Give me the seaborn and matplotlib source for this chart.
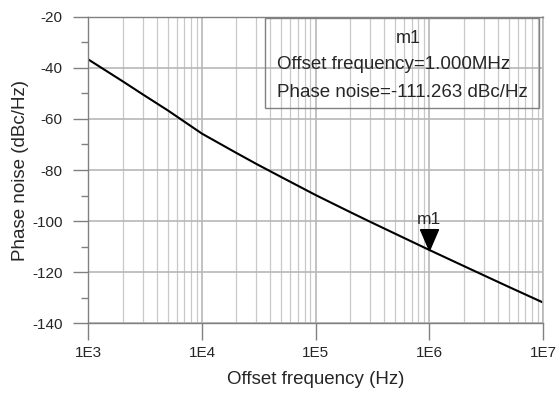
import numpy as np
import pandas as pd
import matplotlib
matplotlib.use("Agg")
import matplotlib.pyplot as plt
import matplotlib.ticker as mticker
from matplotlib.patches import Rectangle
import seaborn as sns

# phase noise curve
offset_hz = [1e3, 2e3, 3e3, 5e3, 1e4, 2e4, 3e4, 5e4, 1e5, 2e5, 3e5, 5e5,
             1e6, 2e6, 5e6, 1e7]
phase_noise = [-36.8, -45.3, -50.4, -56.7, -65.8, -73.3, -77.6, -82.8, -89.8,
               -96.4, -100.2, -104.9, -111.263, -117.5, -125.7, -131.8]

# marker m1
marker_freq = [1e6]
marker_value = [-111.263]

x_ticks = [1e3, 1e4, 1e5, 1e6, 1e7]
x_tick_labels = ["1E3", "1E4", "1E5", "1E6", "1E7"]
y_ticks = [-140, -120, -100, -80, -60, -40, -20]

df = pd.DataFrame({"freq": offset_hz, "pn": phase_noise})

sns.set_style("white")
plt.rcParams["font.family"] = ["Liberation Sans", "DejaVu Sans"]
plt.rcParams["axes.unicode_minus"] = False

fig = plt.figure(figsize=(5.56, 3.94), dpi=100)
ax = fig.add_axes([0.159, 0.179, 0.8176, 0.779])

sns.lineplot(data=df, x="freq", y="pn", color="black", linewidth=1.5, ax=ax)
ax.set_xscale("log")
ax.set_xlim(1e3, 1e7)
ax.set_ylim(-140, -20)

ax.set_xticks(x_ticks)
ax.set_xticklabels(x_tick_labels)
ax.xaxis.set_minor_locator(mticker.LogLocator(base=10, subs=np.arange(2, 10)))
ax.xaxis.set_minor_formatter(mticker.NullFormatter())
ax.set_yticks(y_ticks)
ax.yaxis.set_minor_locator(mticker.MultipleLocator(10))

# grid
ax.grid(which="major", axis="both", color="#b8b8b8", linewidth=1.2)
ax.grid(which="minor", axis="x", color="#c8c8c8", linewidth=0.9)
ax.set_axisbelow(True)

spine_col = "#808080"
for side in ["left", "bottom", "top"]:
    ax.spines[side].set_color(spine_col)
    ax.spines[side].set_linewidth(1.0)
ax.spines["right"].set_color("#b8b8b8")
ax.spines["right"].set_linewidth(1.2)

ax.tick_params(axis="x", which="major", direction="out", length=12, width=1,
               color=spine_col, labelsize=11, pad=4, bottom=True)
ax.tick_params(axis="x", which="minor", length=0)
ax.tick_params(axis="y", which="major", direction="out", length=10.5, width=1,
               color=spine_col, labelsize=11, pad=8, left=True)
ax.tick_params(axis="y", which="minor", direction="out", length=5, width=1,
               color=spine_col, left=True)

ax.set_xlabel("Offset frequency (Hz)", fontsize=13.5)
ax.set_ylabel("Phase noise (dBc/Hz)", fontsize=13.5)
ax.xaxis.set_label_coords(0.5, -0.155)
ax.yaxis.set_label_coords(-0.13, 0.5)

# marker triangle with tip on the curve
tri = [(-0.43, 1.0), (0.43, 1.0), (0.0, 0.0), (-0.43, 1.0)]
ax.plot(marker_freq, marker_value, linestyle="none", marker=tri,
        markersize=30, color="black", zorder=5)
ax.annotate("m1", xy=(marker_freq[0], marker_value[0]), xytext=(0, 22),
            textcoords="offset points", ha="center", va="center", fontsize=12.5)

# readout box
ax.add_patch(Rectangle((0.388, 0.701), 0.603, 0.293, transform=ax.transAxes,
                       fill=False, edgecolor=spine_col, linewidth=1.0, zorder=4))
ax.text(0.703, 0.928, "m1", transform=ax.transAxes, ha="center", va="center",
        fontsize=13)
ax.text(0.414, 0.845, "Offset frequency=%.3fMHz" % (marker_freq[0] / 1e6),
        transform=ax.transAxes, ha="left", va="center", fontsize=13.5)
ax.text(0.414, 0.752, "Phase noise=%.3f dBc/Hz" % marker_value[0],
        transform=ax.transAxes, ha="left", va="center", fontsize=13.5)

fig.savefig("out.png", dpi=100)
